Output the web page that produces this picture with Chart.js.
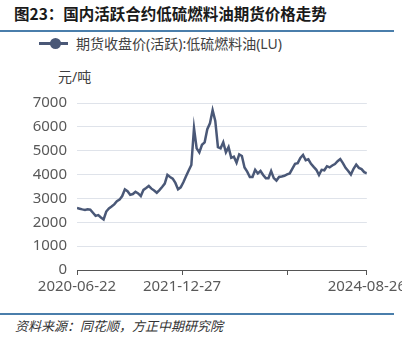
<!DOCTYPE html>
<html>
<head>
<meta charset="utf-8">
<script src="https://cdn.jsdelivr.net/npm/chart.js@4.4.1/dist/chart.umd.min.js"></script>
<style>
  html, body { margin: 0; padding: 0; background: #fff; overflow: hidden; width: 402px; height: 340px; }
  body { position: relative; font-family: "Noto Sans", "Noto Sans CJK SC", sans-serif; }
  .title { position: absolute; left: 14px; top: 2px; font-size: 15.5px; font-weight: bold; color: #1a1a1a; font-family: "Noto Sans CJK SC", sans-serif; }
  .rule { position: absolute; left: 0; width: 394px; height: 2px; background: #4a7eab; }
  .legend { position: absolute; left: 39px; top: 33px; height: 20px; }
  .legend .line { position: absolute; left: 0; top: 9px; width: 29px; height: 3px; background: #4a5877; }
  .legend .dot { position: absolute; left: 11px; top: 5px; width: 11px; height: 11px; border-radius: 50%; background: #4a5877; }
  .legend .txt { position: absolute; left: 37px; top: 0; white-space: nowrap; font-size: 14px; color: #404040; }
  .unit { position: absolute; left: 58px; top: 66px; font-size: 14px; color: #404040; }
  .source { position: absolute; left: 15px; top: 316px; font-size: 13px; font-style: italic; color: #333; font-family: "Noto Sans CJK SC", sans-serif; }
  #chart { position: absolute; left: 0; top: 84px; }
</style>
</head>
<body>
<div class="title">图23：国内活跃合约低硫燃料油期货价格走势</div>
<div class="rule" style="top:30px"></div>
<div class="legend"><span class="line"></span><span class="dot"></span><span class="txt">期货收盘价(活跃):低硫燃料油(LU)</span></div>
<div class="unit">元/吨</div>
<canvas id="chart" width="409" height="222"></canvas>
<div class="rule" style="top:313px"></div>
<div class="source">资料来源：同花顺，方正中期研究院</div>
<script>
// closing price, one reading every two weeks from 2020-06-22
var startDate = '2020-06-22';
var stepDays = 14;
var prices = [
  2600, 2570, 2540, 2515, 2545, 2530, 2400, 2270, 2300, 2200,
  2120, 2450, 2580, 2660, 2750, 2880, 2950, 3100, 3380, 3300,
  3150, 3185, 3280, 3210, 3100, 3360, 3435, 3520, 3410, 3330,
  3240, 3350, 3480, 3620, 3990, 3900, 3830, 3650, 3380, 3465,
  3680, 3930, 4170, 4400, 5950, 5100, 4930, 5250, 5350, 5900,
  6150, 6700, 6250, 5150, 5100, 5350, 4930, 5150, 4700, 4750,
  4500, 4850, 4780, 4300, 4120, 3900, 3900, 4200, 4050, 4150,
  3980, 3850, 3850, 4150, 3850, 3750, 3900, 3920, 3950, 4010,
  4050, 4250, 4450, 4480, 4700, 4820, 4600, 4640, 4450, 4320,
  4200, 3980, 4200, 4180, 4350, 4300, 4380, 4440, 4560, 4650,
  4480, 4280, 4150, 4000, 4240, 4420, 4280, 4230, 4100, 4050
];

// x-axis ticks (days after start) and their labels; the third label is left blank
var tickDays = [0, 553, 1106, 1526];
var tickLabels = ['2020-06-22', '2021-12-27', '', '2024-08-26'];

var yTicks = [0, 1000, 2000, 3000, 4000, 5000, 6000, 7000];

var t0 = new Date(startDate + 'T00:00:00Z');
function dayToDate(d) {
  var k = new Date(t0.getTime() + d * 86400000);
  return k.toISOString().substr(0, 10);
}

var points = prices.map(function(v, i) { return { x: i * stepDays, y: v }; });

var axisFont = { family: '"Noto Sans", "Noto Sans CJK SC"', size: 15 };

var ctx = document.getElementById('chart').getContext('2d');
new Chart(ctx, {
  type: 'line',
  data: {
    datasets: [{
      label: '期货收盘价(活跃):低硫燃料油(LU)',
      data: points,
      borderColor: '#4a5877',
      borderWidth: 2.5,
      pointRadius: 0,
      tension: 0,
      fill: false
    }]
  },
  options: {
    responsive: false,
    animation: false,
    layout: { padding: { left: 0, right: 42, top: 4, bottom: 7 } },
    plugins: {
      legend: { display: false },
      tooltip: {
        callbacks: { title: function(items) { return dayToDate(items[0].parsed.x); } }
      }
    },
    scales: {
      x: {
        type: 'linear',
        min: 0,
        max: tickDays[tickDays.length - 1],
        afterBuildTicks: function(scale) {
          scale.ticks = tickDays.map(function(d) { return { value: d }; });
        },
        ticks: {
          autoSkip: false,
          maxRotation: 0,
          padding: 3,
          color: '#595959',
          font: axisFont,
          callback: function(value) {
            var i = tickDays.indexOf(value);
            return i < 0 ? '' : tickLabels[i];
          }
        },
        grid: { drawOnChartArea: false, drawTicks: true, tickLength: 5, color: '#555' },
        border: { display: true, color: '#555', width: 1 }
      },
      y: {
        min: 0,
        max: 7000,
        afterBuildTicks: function(scale) {
          scale.ticks = yTicks.map(function(v) { return { value: v }; });
        },
        afterFit: function(scale) { scale.width = 77; },
        ticks: {
          padding: 10,
          color: '#595959',
          font: axisFont,
          callback: function(value) { return String(value); }
        },
        grid: { drawTicks: false, color: '#dfe3ea', lineWidth: 1 },
        border: { display: false }
      }
    }
  }
});
</script>
</body>
</html>
